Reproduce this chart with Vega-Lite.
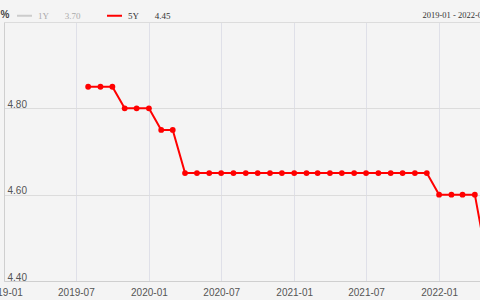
{
  "$schema": "https://vega.github.io/schema/vega-lite/v6.json",
  "autosize": "none",
  "width": 476,
  "height": 259,
  "padding": {"left": 4, "top": 22, "right": 0, "bottom": 19},
  "background": "#f4f4f4",
  "config": {
    "view": {"stroke": null},
    "font": "Liberation Sans"
  },
  "data": {
    "values": [
      {"date": "2019/08/01", "series": "5Y", "rate": 4.85},
      {"date": "2019/09/01", "series": "5Y", "rate": 4.85},
      {"date": "2019/10/01", "series": "5Y", "rate": 4.85},
      {"date": "2019/11/01", "series": "5Y", "rate": 4.80},
      {"date": "2019/12/01", "series": "5Y", "rate": 4.80},
      {"date": "2020/01/01", "series": "5Y", "rate": 4.80},
      {"date": "2020/02/01", "series": "5Y", "rate": 4.75},
      {"date": "2020/03/01", "series": "5Y", "rate": 4.75},
      {"date": "2020/04/01", "series": "5Y", "rate": 4.65},
      {"date": "2020/05/01", "series": "5Y", "rate": 4.65},
      {"date": "2020/06/01", "series": "5Y", "rate": 4.65},
      {"date": "2020/07/01", "series": "5Y", "rate": 4.65},
      {"date": "2020/08/01", "series": "5Y", "rate": 4.65},
      {"date": "2020/09/01", "series": "5Y", "rate": 4.65},
      {"date": "2020/10/01", "series": "5Y", "rate": 4.65},
      {"date": "2020/11/01", "series": "5Y", "rate": 4.65},
      {"date": "2020/12/01", "series": "5Y", "rate": 4.65},
      {"date": "2021/01/01", "series": "5Y", "rate": 4.65},
      {"date": "2021/02/01", "series": "5Y", "rate": 4.65},
      {"date": "2021/03/01", "series": "5Y", "rate": 4.65},
      {"date": "2021/04/01", "series": "5Y", "rate": 4.65},
      {"date": "2021/05/01", "series": "5Y", "rate": 4.65},
      {"date": "2021/06/01", "series": "5Y", "rate": 4.65},
      {"date": "2021/07/01", "series": "5Y", "rate": 4.65},
      {"date": "2021/08/01", "series": "5Y", "rate": 4.65},
      {"date": "2021/09/01", "series": "5Y", "rate": 4.65},
      {"date": "2021/10/01", "series": "5Y", "rate": 4.65},
      {"date": "2021/11/01", "series": "5Y", "rate": 4.65},
      {"date": "2021/12/01", "series": "5Y", "rate": 4.65},
      {"date": "2022/01/01", "series": "5Y", "rate": 4.60},
      {"date": "2022/02/01", "series": "5Y", "rate": 4.60},
      {"date": "2022/03/01", "series": "5Y", "rate": 4.60},
      {"date": "2022/04/01", "series": "5Y", "rate": 4.60},
      {"date": "2022/05/01", "series": "5Y", "rate": 4.45}
    ]
  },
  "encoding": {
    "x": {
      "field": "date",
      "type": "temporal",
      "scale": {"domain": [{"year": 2019, "month": 1, "date": 1}, {"year": 2022, "month": 4, "date": 14}]},
      "axis": {
        "title": "2019-01 - 2022-05",
        "titleX": 418,
        "titleY": -264,
        "titleAlign": "left",
        "titleAnchor": null,
        "titleBaseline": "alphabetic",
        "titleFont": "Liberation Serif",
        "titleFontSize": 8.5,
        "titleFontWeight": "normal",
        "titleColor": "#333333",
        "values": [
          {"year": 2019, "month": 1, "date": 1},
          {"year": 2019, "month": 7, "date": 1},
          {"year": 2020, "month": 1, "date": 1},
          {"year": 2020, "month": 7, "date": 1},
          {"year": 2021, "month": 1, "date": 1},
          {"year": 2021, "month": 7, "date": 1},
          {"year": 2022, "month": 1, "date": 1}
        ],
        "format": "%Y-%m",
        "labelFlush": false,
        "labelOverlap": false,
        "labelFontSize": 10,
        "labelColor": "#555555",
        "labelPadding": 6,
        "ticks": false,
        "tickSize": 0,
        "domainColor": "#cfcfcf",
        "grid": true,
        "gridColor": "#dfe0e8",
        "gridWidth": 1
      }
    },
    "y": {
      "field": "rate",
      "type": "quantitative",
      "scale": {"domain": [4.4, 5.0], "zero": false, "nice": false},
      "axis": {
        "title": "%",
        "titleAngle": 0,
        "titleX": -4,
        "titleY": -8,
        "titleAlign": "left",
        "titleAnchor": null,
        "titleBaseline": "middle",
        "titleFontSize": 10,
        "titleFontWeight": "bold",
        "titleColor": "#444444",
        "values": [4.4, 4.6, 4.8, 5.0],
        "labelExpr": "datum.value >= 4.99 ? '' : format(datum.value, '.2f')",
        "labelAlign": "left",
        "labelBaseline": "alphabetic",
        "labelOffset": -1,
        "labelPadding": -3,
        "ticks": false,
        "tickSize": 0,
        "labelFontSize": 10,
        "labelColor": "#555555",
        "domainColor": "#cfcfcf",
        "grid": true,
        "gridColor": "#dcdcdc",
        "gridWidth": 1
      }
    },
    "color": {
      "field": "series",
      "type": "nominal",
      "scale": {"domain": ["1Y", "5Y"], "range": ["#cccccc", "#ff0000"]},
      "legend": {
        "title": null,
        "orient": "none",
        "legendX": 12,
        "legendY": -15,
        "direction": "horizontal",
        "padding": 0,
        "symbolType": "stroke",
        "symbolSize": 225,
        "symbolStrokeWidth": 2,
        "labelOffset": 5,
        "columnPadding": 22,
        "labelFont": "Liberation Serif",
        "labelFontSize": 9,
        "labelExpr": "datum.label == '1Y' ? '1Y\u00a0\u00a0\u00a0\u00a0\u00a0\u00a0\u00a03.70' : '5Y\u00a0\u00a0\u00a0\u00a0\u00a0\u00a0\u00a04.45'",
        "encode": {
          "symbols": {"update": {"stroke": {"signal": "datum.value == '1Y' ? '#d0d0d0' : '#f27878'"}}},
          "labels": {"update": {"fill": {"signal": "datum.value == '1Y' ? '#aaaaaa' : '#333333'"}}}
        }
      }
    }
  },
  "layer": [
    {"mark": {"type": "line", "strokeWidth": 2, "clip": true}},
    {"mark": {"type": "point", "filled": true, "size": 34, "opacity": 1, "clip": true}}
  ]
}
